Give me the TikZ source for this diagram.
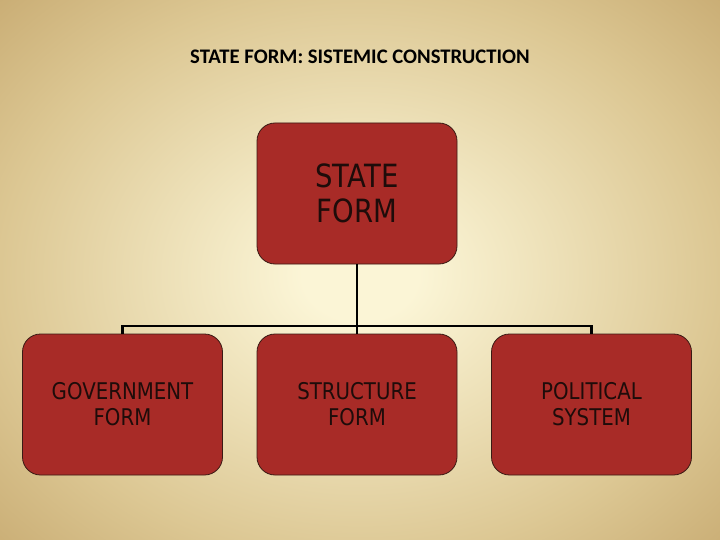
\documentclass[tikz,border=0pt]{standalone}
\usepackage{fontspec}
\newfontfamily\titlefont{Carlito}
\newfontfamily\boxfont[FakeStretch=0.86]{DejaVu Sans}
\definecolor{bgin}{HTML}{FBF5D6}
\definecolor{bgmid}{HTML}{DCC793}
\definecolor{bgout}{HTML}{C8AB72}
\definecolor{boxred}{HTML}{A82B27}
\definecolor{boxline}{HTML}{3A1A14}
\definecolor{txt}{HTML}{1E0C0A}
\pgfdeclareradialshading{slidebg}{\pgfpoint{0bp}{0bp}}{color(0bp)=(bgin); color(4bp)=(bgin); color(25bp)=(bgmid); color(36bp)=(bgout); color(50bp)=(bgout)}
\tikzset{
  box/.style={draw=boxline, line width=0.8pt, fill=boxred, rounded corners=18pt,
    minimum width=200pt, minimum height=141pt, align=center, text=txt, inner sep=0pt},
  link/.style={draw=black, line width=2.6pt}
}
\begin{document}
\begin{tikzpicture}[x=1pt,y=-1pt]
\useasboundingbox (0,0) rectangle (720,540);
\shade[shading=slidebg] (0,-10) rectangle (720,560);
\node[font=\titlefont\bfseries\fontsize{20.7}{24}\selectfont, text=black] (title) at (360,57) {STATE FORM: SISTEMIC CONSTRUCTION};
\node[box, font=\boxfont\fontsize{32}{35}\selectfont] (top) at (357,193.5) {STATE\\FORM};
\node[box, font=\boxfont\fontsize{23}{26}\selectfont] (gov) at (122.5,404.5) {GOVERNMENT\\FORM};
\node[box, font=\boxfont\fontsize{23}{26}\selectfont] (str) at (357,404.5) {STRUCTURE\\FORM};
\node[box, font=\boxfont\fontsize{23}{26}\selectfont] (pol) at (591.5,404.5) {POLITICAL\\SYSTEM};
\coordinate (bar) at (357,326);
\draw[link] (top.south) -- (str.north);
\draw[link] (gov.north) |- (bar) -| (pol.north);
\end{tikzpicture}
\end{document}
